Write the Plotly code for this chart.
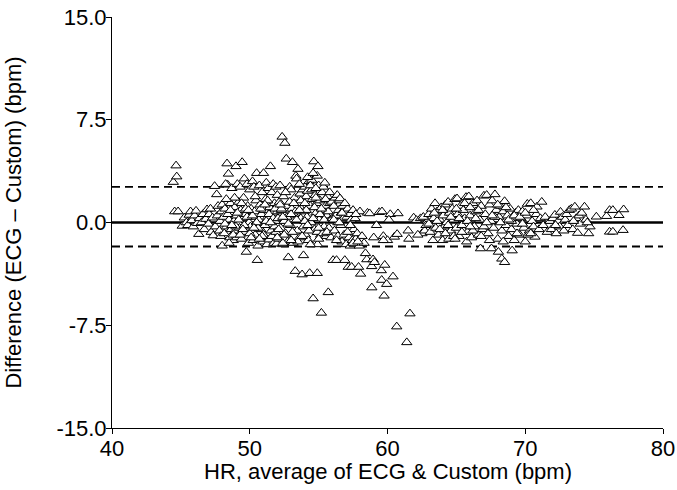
import plotly.graph_objects as go

# ---- data ----
hr_left = [44.45, 44.65, 44.7, 44.55, 44.8, 45.1, 45.25, 45.4, 45.5, 45.6,
           45.7, 45.8, 45.9, 46.0, 46.1, 46.2, 46.3, 46.35, 46.5, 46.6,
           46.7, 46.8, 46.9, 47.0, 47.05, 47.15, 47.2, 47.3, 47.35, 47.45,
           47.5, 47.6, 47.65, 47.7, 47.8, 47.85, 47.9, 47.95, 48.0, 48.0]
diff_left = [2.95, 4.15, 3.35, 0.8, 0.8, -0.25, 0.35, 0.0, -0.2, 0.55,
             0.8, 0.15, -0.3, 0.5, 0.85, -0.05, -0.85, 0.3, 0.0, 0.6,
             -0.5, 0.25, 0.95, -0.1, 0.6, 1.0, -0.7, 0.35, -0.95, 2.65,
             -0.3, 2.05, 0.5, 1.2, -0.6, 0.1, -1.0, 0.8, -1.7, 1.3]

hr_48_52 = [48.1, 48.15, 48.2, 48.3, 48.35, 48.4, 48.45, 48.5, 48.55, 48.6,
            48.25, 48.65, 48.7, 48.75, 48.8, 48.85, 48.9, 48.95, 49.0, 49.0,
            49.05, 49.1, 49.15, 49.2, 49.25, 49.3, 49.35, 49.4, 49.45, 49.5,
            49.55, 49.6, 49.65, 49.7, 49.75, 49.8, 49.85, 49.9, 49.95, 50.0,
            50.05, 50.1, 50.15, 50.2, 50.25, 50.3, 50.35, 50.4, 50.45, 50.5,
            50.55, 50.6, 50.65, 50.7, 50.75, 50.8, 50.85, 50.9, 50.95, 51.0,
            51.05, 51.1, 51.15, 51.2, 51.25, 51.3, 51.35, 51.4, 51.45, 51.5,
            51.55, 51.6, 51.65, 51.7, 51.75, 51.8, 51.85, 51.9, 51.95, 52.0,
            48.2, 48.4, 48.6, 48.8, 49.0, 49.2, 49.4, 49.6, 49.8, 50.0,
            50.2, 50.4, 50.6, 50.8, 51.0, 51.2, 51.4, 51.6, 51.8, 52.0,
            48.5, 48.9, 49.3, 49.7, 50.1, 50.5, 50.9, 51.3, 51.7, 51.9,
            48.3, 48.7, 49.1, 49.5, 49.9, 50.3, 50.7, 51.1, 51.5, 51.85]
diff_48_52 = [0.4, -0.8, 1.0, -0.3, 4.3, 2.75, 3.55, 0.2, -1.1, 1.4,
              2.8, -0.5, 2.5, 0.7, -1.3, 0.1, 1.1, -0.6, 4.1, 0.5,
              -1.1, 2.8, 0.0, 1.5, -0.4, 2.6, 0.9, -1.2, 4.4, 0.3,
              1.8, 3.2, -0.7, 0.6, -2.15, 2.8, 1.2, -1.5, 0.0, 2.4,
              -0.3, 1.0, 0.4, 3.0, -1.3, 2.6, 0.8, -0.9, 1.6, 3.6,
              -2.75, -1.7, 0.2, 2.7, 1.3, -0.5, 0.6, 2.2, -1.4, 3.6,
              0.9, -0.2, 1.7, 2.9, -1.6, 0.4, 2.5, -1.25, 1.1, 4.1,
              -0.6, 2.2, 0.7, 2.8, -1.5, 1.4, 0.1, 2.6, -1.55, 2.0,
              -0.1, 0.6, 0.9, -0.9, -0.3, 0.2, 1.4, -0.2, 0.4, -0.8,
              0.5, 1.9, -0.4, 1.0, -0.9, 0.1, 0.6, -1.0, -0.3, 0.8,
              -1.5, 1.8, -0.9, 1.0, -1.1, 0.0, -1.0, 1.6, 0.3, -0.7,
              1.7, -0.2, 0.7, -0.5, 0.9, -0.4, -1.2, 1.3, 0.0, 1.0]

hr_52_56 = [52.05, 52.1, 52.15, 52.2, 52.25, 52.3, 52.35, 52.4, 52.45, 52.5,
            52.55, 52.6, 52.65, 52.7, 52.75, 52.8, 52.85, 52.9, 52.95, 53.0,
            53.05, 53.1, 53.15, 53.2, 53.25, 53.3, 53.35, 53.4, 53.45, 53.5,
            53.55, 53.6, 53.65, 53.7, 53.75, 53.8, 53.85, 53.9, 53.95, 54.0,
            54.05, 54.1, 54.15, 54.2, 54.25, 54.3, 54.35, 54.4, 54.45, 54.5,
            54.55, 54.6, 54.65, 54.7, 54.75, 54.8, 54.85, 54.9, 54.95, 55.0,
            54.9, 54.92, 55.05, 55.1, 55.15, 55.2, 55.25, 55.3, 55.35, 55.4,
            55.45, 55.5, 55.55, 55.6, 55.65, 55.7, 55.75, 55.8, 55.85, 55.9,
            52.1, 52.3, 52.5, 52.7, 52.9, 53.1, 53.3, 53.5, 53.7, 53.9,
            54.1, 54.3, 54.5, 54.7, 54.9, 55.1, 55.3, 55.5, 55.7, 55.95,
            52.2, 52.4, 52.6, 52.8, 53.0, 53.2, 53.4, 53.6, 53.8, 54.0,
            54.2, 54.4, 54.6, 54.8, 55.0, 55.2, 55.4, 55.6, 55.8, 56.0,
            54.0, 54.2, 54.4, 54.6, 54.8, 55.0, 53.6, 53.0, 52.4, 52.0]
diff_52_56 = [0.3, -1.2, 1.5, 2.7, -0.4, 0.9, 6.25, -1.6, 1.9, 0.1,
              5.8, -0.8, 4.65, 1.2, -1.4, -2.55, 0.5, 2.6, -0.2, 2.4,
              1.0, 4.4, -1.5, 0.6, 1.8, -3.55, 3.4, 3.2, -0.6, 3.9,
              1.4, -1.1, 2.1, 0.3, 1.0, -3.8, 2.4, -2.4, 0.8, 2.6,
              -0.9, 1.9, 0.4, 2.3, -1.3, 3.0, -3.7, 1.2, 0.0, 3.1,
              1.7, -5.55, 4.45, -0.5, 2.0, 0.7, 1.4, 3.4, 4.1, 2.7,
              -3.7, -1.6, 0.2, 1.6, -0.9, -6.6, 2.2, 0.9, 2.6, -0.3,
              2.9, 1.2, -1.0, 0.5, 1.9, -5.1, -0.4, 1.4, 0.2, -1.1,
              -0.5, 1.0, -0.9, 0.4, 1.5, -0.7, 0.8, -1.4, 1.6, -0.3,
              0.9, -0.6, 2.4, 1.1, -0.7, 0.6, -0.8, 1.7, 0.8, 1.5,
              1.3, 0.4, 2.2, -0.1, -1.3, 1.4, 0.2, 2.8, -1.0, 0.1,
              -0.2, 2.7, 0.3, 2.5, -0.4, 1.0, 0.2, -0.7, 2.2, 0.3,
              1.4, 3.3, -1.6, 3.6, 1.8, -1.2, 0.9, 0.6, -1.5, -1.1]

hr_56_63 = [56.05, 56.1, 56.15, 56.2, 56.25, 56.3, 56.35, 56.4, 56.45, 56.5,
            56.55, 56.6, 56.65, 56.7, 56.75, 56.8, 56.85, 56.9, 56.95, 57.0,
            57.05, 57.1, 57.15, 57.2, 57.25, 57.3, 57.35, 57.4, 57.45, 57.5,
            57.55, 57.6, 57.65, 57.7, 57.8, 57.9, 57.95, 58.0, 58.05, 58.15,
            58.3, 58.4, 58.5, 58.55, 58.7, 58.85, 58.95, 59.0, 59.05, 59.2,
            58.86, 59.4, 59.55, 59.58, 59.6, 59.7, 59.75, 59.8, 59.94, 60.0,
            60.2, 60.4, 60.5, 60.67, 60.7, 60.76, 61.4, 61.5, 61.55, 61.63,
            61.9, 62.1, 62.4, 62.5, 62.7, 62.9, 62.2, 59.7, 60.1, 56.4,
            56.1, 56.3, 56.5, 56.7, 56.9, 57.1, 57.3, 57.5, 57.7, 57.85]
diff_56_63 = [-2.75, 1.2, -0.6, 1.8, 0.5, -2.75, 2.0, -1.0, 0.9, 1.6,
              1.75, -0.2, 0.7, -1.4, 1.2, 0.3, -0.9, -2.75, 0.8, -1.6,
              0.4, 1.0, -3.25, -1.1, 0.6, -1.7, 0.2, -3.25, -1.3, 0.9,
              -0.5, -1.6, 0.3, -1.2, -0.8, -3.25, -1.7, 0.8, -3.75, -1.0,
              -1.5, -2.25, -2.7, 0.7, 0.66, -3.2, -2.7, -1.1, -2.9, -0.2,
              -4.75, 0.75, -3.5, -4.2, 0.8, -1.0, -5.35, -3.1, -4.5, -1.3,
              0.6, -3.95, -1.05, -7.6, -0.85, 0.66, -8.75, -0.6, -1.2, -6.65,
              0.35, 0.17, 0.3, -0.8, -0.6, 0.1, -0.9, -1.3, 0.2, 0.0,
              0.2, -1.3, 0.0, 0.7, 1.4, -0.7, -0.2, -1.5, 0.6, -1.4]

hr_63_72 = [62.6, 62.8, 63.0, 63.1, 63.2, 63.3, 63.35, 63.45, 63.5, 63.6,
            63.7, 63.8, 63.9, 64.0, 64.05, 64.1, 64.2, 64.3, 64.4, 64.45,
            64.5, 64.6, 64.7, 64.8, 64.9, 65.0, 65.05, 65.1, 65.2, 65.3,
            65.4, 65.5, 65.6, 65.7, 65.75, 65.8, 65.9, 66.0, 66.1, 66.2,
            66.3, 66.4, 66.5, 66.6, 66.7, 66.75, 66.8, 66.9, 67.0, 67.1,
            67.2, 67.3, 67.4, 67.5, 67.55, 67.6, 67.7, 67.8, 67.9, 68.0,
            68.05, 68.1, 68.2, 68.3, 68.3, 68.4, 68.5, 68.5, 68.6, 68.7,
            68.8, 68.9, 69.0, 69.05, 69.1, 69.2, 69.3, 69.4, 69.5, 69.6,
            69.7, 69.8, 69.9, 70.0, 70.1, 70.15, 70.3, 70.4, 70.5, 70.6,
            70.7, 70.8, 70.85, 71.0, 71.1, 71.2, 71.3, 71.45, 71.6, 71.8,
            63.0, 63.4, 63.8, 64.2, 64.6, 65.0, 65.4, 65.8, 66.2, 66.6,
            67.0, 67.4, 67.8, 68.2, 68.6, 69.0, 69.4, 69.8, 70.2, 70.6,
            63.6, 64.0, 64.4, 64.8, 65.2, 65.6, 66.0, 66.4, 66.8, 67.2,
            67.6, 68.0, 68.4, 68.8, 69.2, 69.6, 70.0, 70.4, 64.9, 66.0]
diff_63_72 = [0.4, -0.2, 0.6, -0.7, 1.0, -1.3, 0.3, 1.4, -0.4, 0.8,
              -0.9, 0.2, 1.1, -1.3, 0.5, -0.3, 1.3, 0.0, 1.5, -1.2,
              0.7, -0.6, 1.0, 0.2, 1.7, -0.4, 1.75, 0.6, -1.0, 1.2,
              -0.2, 0.9, 0.3, 1.85, -1.4, -0.7, 1.9, 0.5, -1.1, 1.4,
              -0.3, 0.8, 1.6, -0.9, 0.2, -1.9, 1.2, -0.5, 1.95, 0.6,
              2.0, -0.8, 1.3, 0.1, -1.9, 1.6, -0.4, 2.05, 0.9, -1.2,
              -2.15, 0.4, 1.2, -2.65, -0.6, 0.8, -2.9, 1.55, -0.2, 0.5,
              -1.0, 1.0, -0.5, -2.05, 0.3, -1.3, 0.7, -0.1, 0.9, -0.9,
              0.3, 0.8, -0.4, -1.4, 0.5, 1.35, -0.6, 1.4, 0.1, -0.3,
              -1.05, 0.6, 1.15, -0.5, 0.3, 1.5, -0.2, 0.4, -0.7, 0.1,
              -0.1, 0.7, -0.5, -0.8, 0.4, 1.0, -0.7, 0.1, -0.6, 0.9,
              -0.3, -1.3, 0.4, 0.0, 1.1, 0.1, -0.8, -0.1, -0.9, 0.9,
              0.1, 0.9, -0.2, -1.0, 0.3, 1.4, -0.3, 0.3, -1.0, 0.0,
              0.5, 1.3, -1.4, 0.2, 0.5, 0.4, 0.7, -0.8, -1.2, 1.1]

hr_right = [71.9, 72.0, 72.15, 72.25, 72.4, 72.5, 72.56, 72.7, 72.8, 72.9,
            73.0, 73.1, 73.2, 73.35, 73.45, 73.6, 73.7, 73.8, 73.9, 74.0,
            74.1, 74.3, 74.4, 74.6, 74.7, 75.16, 75.9, 76.12, 76.36, 76.8,
            77.14, 76.12, 76.36, 77.1, 74.5, 73.5, 72.2]
diff_right = [-0.5, 0.3, 0.55, -0.8, 0.1, -0.3, 0.77, 0.4, -0.6, 0.2,
              0.6, -0.2, 0.9, 1.0, -0.5, 1.15, 0.3, -0.77, 0.5, -0.1,
              0.7, 1.15, 0.2, -0.8, -0.3, 0.42, 0.46, 0.9, 0.9, 0.53,
              0.95, -0.68, -0.68, -0.56, 0.0, 0.1, -0.2]

mean_line = 0.0
upper_loa = 2.6
lower_loa = -1.75

x_ticks = [40, 50, 60, 70, 80]
y_ticks = [-15, -7.5, 0, 7.5, 15]
y_tick_text = ["-15.0", "-7.5", "0.0", "7.5", "15.0"]

x_title = "HR, average of ECG & Custom (bpm)"
y_title = "Difference (ECG – Custom) (bpm)"

hr_all = hr_left + hr_48_52 + hr_52_56 + hr_56_63 + hr_63_72 + hr_right
diff_all = diff_left + diff_48_52 + diff_52_56 + diff_56_63 + diff_63_72 + diff_right

FONT = "Liberation Sans, Arial, sans-serif"

fig = go.Figure()
fig.add_trace(go.Scatter(
    x=hr_all, y=diff_all, mode="markers",
    marker=dict(symbol="triangle-up", size=9, color="white",
                line=dict(color="black", width=1)),
    showlegend=False, hoverinfo="skip"))

fig.add_shape(type="line", xref="x", yref="y", x0=40, x1=80, y0=mean_line, y1=mean_line,
              line=dict(color="black", width=2.4), layer="below")
for v in (upper_loa, lower_loa):
    fig.add_shape(type="line", xref="x", yref="y", x0=40, x1=80, y0=v, y1=v,
                  line=dict(color="black", width=1.8, dash="8px,5px"), layer="below")

# x-axis title placed as an annotation for exact vertical position
fig.add_annotation(text=x_title, xref="paper", yref="paper", x=0.5, y=-0.105,
                   xanchor="center", yanchor="middle", showarrow=False,
                   font=dict(size=22, color="black", family=FONT))

fig.update_layout(
    width=677, height=490,
    margin=dict(l=112, r=14, t=17, b=62, autoexpand=False),
    paper_bgcolor="white", plot_bgcolor="white",
    font=dict(family=FONT, size=22, color="black"),
)
fig.update_xaxes(range=[40, 80], tickvals=x_ticks, ticks="outside", ticklen=5,
                 tickcolor="black", showline=True, linecolor="black", linewidth=1,
                 showgrid=False, zeroline=False, automargin=False,
                 ticklabelstandoff=-4)
fig.update_yaxes(range=[-15, 15], tickvals=y_ticks, ticktext=y_tick_text,
                 ticks="outside", ticklen=5, tickcolor="black",
                 showline=True, linecolor="black", linewidth=1,
                 showgrid=False, zeroline=False, automargin=False,
                 ticklabelstandoff=-5,
                 title=dict(text=y_title, standoff=28, font=dict(size=22)))

fig.write_html("out.html", config={"displayModeBar": False},
               post_script="document.body.style.margin='0px';")
